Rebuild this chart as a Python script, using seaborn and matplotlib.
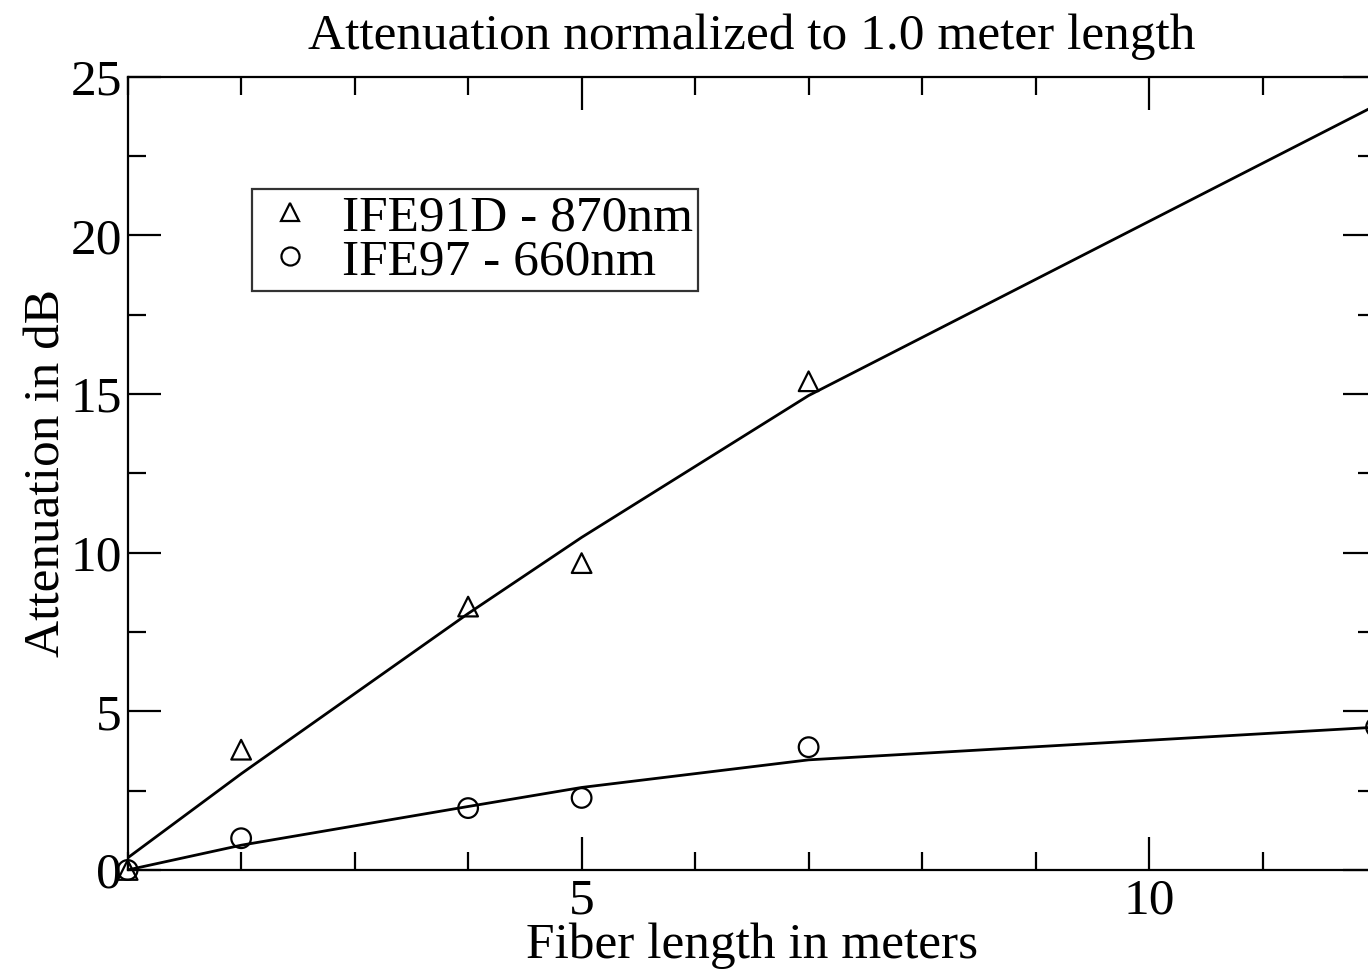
#!/usr/bin/env python3
# coding=utf-8
from matplotlib import pyplot as plt
from matplotlib.lines import Line2D
from matplotlib.ticker import MultipleLocator
import pandas as pd
import seaborn as sns

# measured points
length_m = [1, 2, 4, 5, 7, 12]
att_870 = [0.0, 3.79, 8.3, 9.67, 15.4]
att_660 = [0.0, 1.0, 1.95, 2.27, 3.87, 4.5]

# fitted curves
fit_870 = [0.38, 3.03, 8.08, 10.48, 14.95, 24.1]
fit_660 = [0.0, 0.78, 2.0, 2.6, 3.47, 4.5]

label_870 = "IFE91D - 870nm"
label_660 = "IFE97 - 660nm"


def plot_graph(fig_location: str = None):
    df_870 = pd.DataFrame({"length": length_m[:len(att_870)], "att": att_870})
    df_660 = pd.DataFrame({"length": length_m, "att": att_660})
    df_fit = pd.DataFrame({"length": length_m, "f870": fit_870, "f660": fit_660})

    sns.set_theme(style="ticks")
    plt.rcParams["font.family"] = ["Liberation Serif", "DejaVu Serif"]
    plt.rcParams["text.color"] = "black"
    plt.rcParams["axes.labelcolor"] = "black"
    plt.rcParams["xtick.color"] = "black"
    plt.rcParams["ytick.color"] = "black"
    plt.rcParams["axes.linewidth"] = 1.6

    fig = plt.figure(figsize=(13.68, 9.69), dpi=100)
    # right end of the frame lies just beyond the image edge, as in the original
    ax = fig.add_axes([0.0933, 0.1022, 0.9126, 0.8187])

    sns.lineplot(x="length", y="f870", data=df_fit, ax=ax, color="black", linewidth=2.0)
    sns.lineplot(x="length", y="f660", data=df_fit, ax=ax, color="black", linewidth=2.0)
    sns.scatterplot(x="length", y="att", data=df_870, ax=ax, marker="^", s=200,
                    facecolor="none", edgecolor="black", linewidth=1.6, legend=False,
                    clip_on=False)
    sns.scatterplot(x="length", y="att", data=df_660, ax=ax, marker="o", s=200,
                    facecolor="none", edgecolor="black", linewidth=1.6, legend=False,
                    clip_on=False)

    ax.set(xlim=(1, 12), ylim=(0, 25))
    ax.xaxis.set_major_locator(MultipleLocator(5))
    ax.xaxis.set_minor_locator(MultipleLocator(1))
    ax.yaxis.set_major_locator(MultipleLocator(5))
    ax.yaxis.set_minor_locator(MultipleLocator(2.5))
    ax.tick_params(which="both", direction="in", top=True, right=True, width=1.6,
                   labelsize=37, pad=6)
    ax.tick_params(axis="y", pad=4)
    ax.tick_params(which="major", length=24)
    ax.tick_params(which="minor", length=13)
    for sp in ax.spines.values():
        sp.set_visible(True)
        sp.set_color("black")

    ax.set_xlabel("Fiber length in meters", fontsize=37, labelpad=-2)
    ax.set_ylabel("Attenuation in dB", fontsize=37, labelpad=0)
    ax.set_title("Attenuation normalized to 1.0 meter length", fontsize=37, pad=20)

    handles = [
        Line2D([], [], linestyle="none", marker="^", markersize=13, markerfacecolor="none",
               markeredgecolor="black", markeredgewidth=1.6),
        Line2D([], [], linestyle="none", marker="o", markersize=13, markerfacecolor="none",
               markeredgecolor="black", markeredgewidth=1.6),
    ]
    leg = ax.legend(handles, [label_870, label_660], loc="upper left",
                    bbox_to_anchor=(0.184, 0.805), bbox_transform=fig.transFigure,
                    fontsize=37, frameon=True, fancybox=False, edgecolor="black",
                    borderpad=0.1, handletextpad=0.35, labelspacing=-0.05,
                    handlelength=1.3, borderaxespad=0)
    leg.get_frame().set_linewidth(1.6)

    if fig_location:
        fig.savefig(fig_location, dpi=100)


if __name__ == "__main__":
    plot_graph(fig_location="out.png")
